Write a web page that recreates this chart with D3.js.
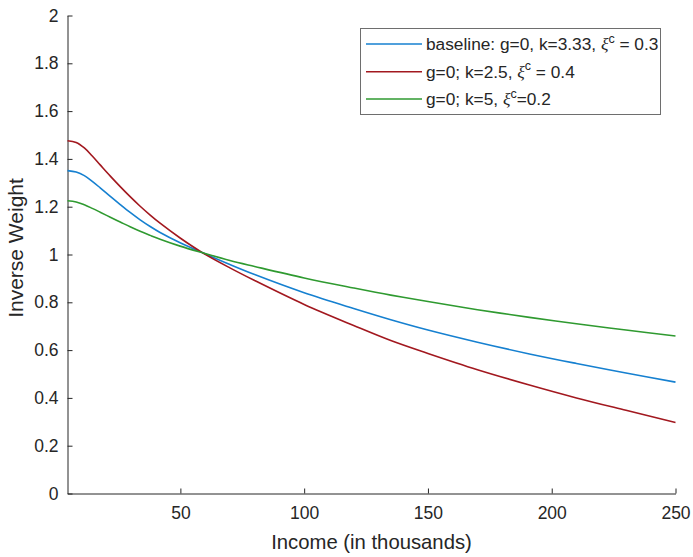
<!DOCTYPE html>
<html>
<head>
<meta charset="utf-8">
<script src="https://cdn.jsdelivr.net/npm/d3@7"></script>
<style>
  html, body { margin: 0; padding: 0; background: #fff; }
  svg { display: block; }
  text { font-family: "Liberation Sans", Arial, Helvetica, sans-serif; fill: #262626; }
</style>
</head>
<body>
<svg id="chart" width="693" height="557"></svg>
<script>
// Income grid (thousands) shared by all three weight curves
const income = [4.4, 7.9, 11.2, 14.4, 17.6, 21.7, 25.7, 29.7, 33.75, 37.8, 41.8, 49.9, 59, 70, 80, 100, 120, 135, 150, 170, 191, 210, 230, 250];

// Inverse welfare weight for each parameterisation
const baseline = [1.351, 1.345, 1.330, 1.306, 1.279, 1.243, 1.209, 1.176, 1.145, 1.117, 1.092, 1.049, 1.007, 0.958, 0.916, 0.840, 0.774, 0.727, 0.684, 0.633, 0.584, 0.544, 0.504, 0.466];
const highXi   = [1.476, 1.469, 1.446, 1.412, 1.375, 1.328, 1.284, 1.242, 1.202, 1.165, 1.131, 1.069, 1.007, 0.944, 0.891, 0.791, 0.703, 0.640, 0.586, 0.518, 0.454, 0.400, 0.348, 0.297];
const lowXi    = [1.225, 1.220, 1.208, 1.193, 1.177, 1.156, 1.136, 1.116, 1.097, 1.080, 1.064, 1.035, 1.007, 0.975, 0.950, 0.902, 0.860, 0.830, 0.803, 0.769, 0.737, 0.710, 0.684, 0.659];

const xTicks = [50, 100, 150, 200, 250];
const yTicks = [0, 0.2, 0.4, 0.6, 0.8, 1, 1.2, 1.4, 1.6, 1.8, 2];

const seriesColors = ["#1680d0", "#a2181f", "#2f9a30"];

const margin = { left: 67.5, right: 17.5, top: 15.5, bottom: 63.5 };
const W = 693, H = 557;

const svg = d3.select("#chart");
const x = d3.scaleLinear().domain([4.4, 250]).range([margin.left, W - margin.right]);
const y = d3.scaleLinear().domain([0, 2]).range([H - margin.bottom, margin.top]);

// Axes: ticks pointing inward
const xAxis = svg.append("g")
  .attr("transform", `translate(0,${H - margin.bottom})`)
  .call(d3.axisBottom(x).tickValues(xTicks).tickSizeInner(-5).tickSizeOuter(0).tickPadding(13).tickFormat(d3.format("d")));
const yAxis = svg.append("g")
  .attr("transform", `translate(${margin.left},0)`)
  .call(d3.axisLeft(y).tickValues(yTicks).tickSizeInner(-5).tickSizeOuter(0).tickPadding(9).tickFormat(d => String(d)));

[xAxis, yAxis].forEach(g => {
  g.select(".domain").attr("stroke", "#262626").attr("stroke-width", 1);
  g.selectAll(".tick line").attr("stroke", "#262626").attr("stroke-width", 1);
  g.selectAll(".tick text").attr("fill", "#262626").style("font-size", "17.5px")
    .style("font-family", "'Liberation Sans', Arial, sans-serif");
});
xAxis.selectAll(".tick text").attr("dy", "0.71em");

// Axis titles
svg.append("text")
  .attr("x", (margin.left + W - margin.right) / 2)
  .attr("y", 548.5)
  .attr("text-anchor", "middle")
  .style("font-size", "20.3px")
  .text("Income (in thousands)");

svg.append("text")
  .attr("transform", `translate(23,248) rotate(-90)`)
  .attr("text-anchor", "middle")
  .style("font-size", "21px")
  .text("Inverse Weight");

// Curves
const allSeries = [baseline, highXi, lowXi];
const line = d3.line()
  .x((d, i) => x(income[i]))
  .y(d => y(d))
  .curve(d3.curveCatmullRom.alpha(0.5));

svg.append("g").selectAll("path")
  .data(allSeries)
  .join("path")
  .attr("d", d => line(d))
  .attr("fill", "none")
  .attr("stroke", (d, i) => seriesColors[i])
  .attr("stroke-width", 1.6);

// Legend
const lg = svg.append("g");
lg.append("rect")
  .attr("x", 360.5).attr("y", 28.5)
  .attr("width", 300).attr("height", 86)
  .attr("fill", "#fff").attr("stroke", "#6e6e6e").attr("stroke-width", 1);

const legendLabels = [
  { pre: "baseline: g=0, k=3.33, ", post: " = 0.3" },
  { pre: "g=0; k=2.5, ", post: " = 0.4" },
  { pre: "g=0; k=5, ", post: "=0.2" }
];
const rowY = [44, 71.7, 99];

legendLabels.forEach((lab, i) => {
  lg.append("line")
    .attr("x1", 366).attr("x2", 422)
    .attr("y1", rowY[i]).attr("y2", rowY[i])
    .attr("stroke", seriesColors[i]).attr("stroke-width", 1.6);
  const t = lg.append("text")
    .attr("x", 426).attr("y", rowY[i] + 6)
    .style("font-size", "17.3px");
  t.append("tspan").text(lab.pre);
  t.append("tspan")
    .style("font-family", "'Liberation Serif', 'DejaVu Serif', serif")
    .style("font-style", "italic")
    .style("font-size", "17.5px")
    .text("ξ");
  t.append("tspan")
    .attr("dy", -7.5)
    .style("font-size", "12.5px")
    .text("c");
  t.append("tspan")
    .attr("dy", 7.5)
    .text(lab.post);
});
</script>
</body>
</html>
